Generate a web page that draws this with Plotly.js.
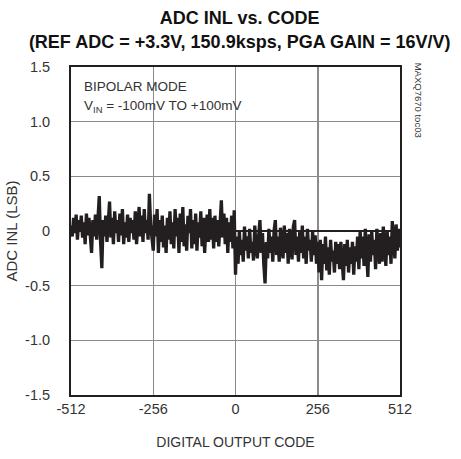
<!DOCTYPE html>
<html>
<head>
<meta charset="utf-8">
<script src="https://cdn.plot.ly/plotly-3.0.1.min.js"></script>
<style>html,body{margin:0;padding:0;background:#fff;}#chart{width:461px;height:459px;}</style>
</head>
<body>
<div id="chart"></div>
<script>
// INL values (LSB) read every 4 codes from -512 to +512
const inlNeg = [
  0.05, -0.05, 0.12, -0.02, 0.15, -0.08, 0.10, 0.0, 0.14, -0.06, 0.08, -0.12, 0.16, -0.04, 0.12, -0.1,
  -0.2, 0.1, -0.05, 0.15, -0.08, 0.12, 0.32, -0.1, -0.34, 0.1, -0.05, 0.14, -0.1, 0.08, 0.27, -0.06,
  0.12, -0.12, 0.18, -0.02, 0.1, -0.1, 0.16, -0.04, 0.2, -0.12, 0.08, -0.06, 0.15, -0.1, 0.12, -0.02,
  0.1, -0.08, 0.18, -0.12, 0.06, 0.22, -0.05, 0.14, -0.1, 0.2, -0.02, 0.1, -0.08, 0.34, 0.05, -0.1,
  -0.18, 0.15, -0.05, 0.2, -0.2, 0.1, -0.1, 0.14, -0.15, 0.05, -0.2, 0.12, -0.08, 0.18, -0.12, 0.08,
  -0.16, 0.2, -0.05, 0.12, -0.2, 0.16, -0.1, 0.22, -0.14, 0.06, -0.18, 0.14, -0.02, 0.2, -0.16, 0.1,
  -0.12, 0.16, -0.18, 0.08, -0.06, 0.18, -0.14, 0.12, -0.2, 0.05, 0.15, -0.1, 0.2, -0.08, 0.12, -0.16,
  0.14, -0.1, 0.1, -0.14, 0.06, 0.28, -0.06, 0.16, -0.12, 0.12, -0.2, 0.08, -0.1, 0.14, -0.16, 0.19
];
const inlZero = [-0.4];
const inlPos = [
  -0.05, -0.3, 0.0, -0.22, -0.08, -0.28, 0.04, -0.18, -0.05, -0.25, 0.02, -0.2, -0.1, -0.27, 0.05, -0.15,
  -0.25, -0.05, 0.1, -0.2, -0.02, -0.3, -0.48, -0.1, -0.25, 0.02, -0.2, -0.05, -0.28, 0.0, 0.1, -0.22,
  -0.05, -0.28, 0.03, -0.15, -0.25, 0.05, -0.2, -0.02, -0.3, 0.02, -0.12, -0.26, 0.04, 0.1, -0.22, -0.05,
  -0.28, 0.0, -0.2, 0.05, -0.25, -0.05, -0.3, 0.02, -0.18, -0.08, -0.28, 0.0, -0.22, -0.04, -0.3, -0.1,
  -0.38, -0.08, -0.45, -0.12, -0.3, -0.05, -0.36, -0.15, -0.4, -0.08, -0.28, -0.18, -0.38, -0.1, -0.3, -0.12,
  -0.35, -0.1, -0.28, -0.45, -0.12, -0.32, -0.08, -0.38, -0.15, -0.3, -0.1, -0.4, -0.14, -0.28, -0.05, -0.35,
  0.0, -0.25, -0.05, -0.32, 0.02, -0.2, -0.42, -0.03, -0.28, 0.0, -0.22, -0.08, -0.35, 0.02, -0.18, -0.3,
  -0.02, -0.28, 0.04, -0.15, -0.32, 0.0, -0.22, -0.05, -0.3, 0.09, -0.1, -0.25, 0.06, -0.18, 0.02, -0.15
];
const codeStep = 4;
const codeStart = -512;
const xTickVals = [-512, -256, 0, 256, 512];
const xTickText = ['-512', '-256', '0', '256', '512'];
const yTickVals = [-1.5, -1.0, -0.5, 0, 0.5, 1.0, 1.5];
const yTickText = ['-1.5', '-1.0', '-0.5', '0', '0.5', '1.0', '1.5'];

const inl = inlNeg.concat(inlZero, inlPos);
const codes = inl.map((_, i) => codeStart + i * codeStep);

const FONT = '"Liberation Sans Narrow", "Liberation Sans", Arial, sans-serif';
const INK = '#231f20';
const TXT = '#333';

const trace = {
  x: codes, y: inl, type: 'scatter', mode: 'lines',
  line: {color: INK, width: 3.3}, hoverinfo: 'skip'
};

const axisCommon = {
  showline: true, linecolor: INK, linewidth: 2, mirror: true,
  showgrid: true, gridcolor: '#8a8a8a', gridwidth: 1.5,
  ticks: '', tickfont: {family: FONT, size: 14.5, color: TXT}
};

const layout = {
  width: 461, height: 459,
  margin: {l: 71, r: 61, t: 67, b: 64},
  paper_bgcolor: '#fff', plot_bgcolor: '#fff',
  showlegend: false,
  font: {family: FONT, color: INK},
  title: {
    text: '<b>ADC INL vs. CODE<br>(REF ADC = +3.3V, 150.9ksps, PGA GAIN = 16V/V)</b>',
    font: {family: FONT, size: 18, color: '#111'},
    x: 0.52, xref: 'container', xanchor: 'center',
    y: 0.947, yref: 'container', yanchor: 'top'
  },
  xaxis: Object.assign({}, axisCommon, {
    range: [-512, 512], tickvals: xTickVals, ticktext: xTickText,
    zeroline: false,
    title: {text: 'DIGITAL OUTPUT CODE', font: {family: FONT, size: 14, color: TXT}, standoff: 21}
  }),
  yaxis: Object.assign({}, axisCommon, {
    range: [-1.5, 1.5], tickvals: yTickVals, ticktext: yTickText,
    zeroline: true, zerolinecolor: INK, zerolinewidth: 1.2,
    ticklabelstandoff: 16,
    title: {text: 'ADC INL (LSB)', font: {family: FONT, size: 15, color: TXT}, standoff: 4}
  }),
  annotations: [
    {text: 'BIPOLAR MODE', xref: 'paper', yref: 'paper', x: 0.033, y: 0.941,
     xanchor: 'left', yanchor: 'middle', showarrow: false,
     font: {family: FONT, size: 13.5, color: TXT}},
    {text: 'V<sub>IN</sub> = -100mV TO +100mV', xref: 'paper', yref: 'paper', x: 0.033, y: 0.881,
     xanchor: 'left', yanchor: 'middle', showarrow: false,
     font: {family: FONT, size: 13.5, color: TXT}},
    {text: 'MAXQ7670 toc03', xref: 'paper', yref: 'paper', x: 1.055, y: 0.9,
     xanchor: 'center', yanchor: 'middle', showarrow: false, textangle: 90,
     font: {family: FONT, size: 9.5, color: TXT}}
  ]
};

Plotly.newPlot('chart', [trace], layout, {staticPlot: true, displayModeBar: false});
</script>
</body>
</html>
